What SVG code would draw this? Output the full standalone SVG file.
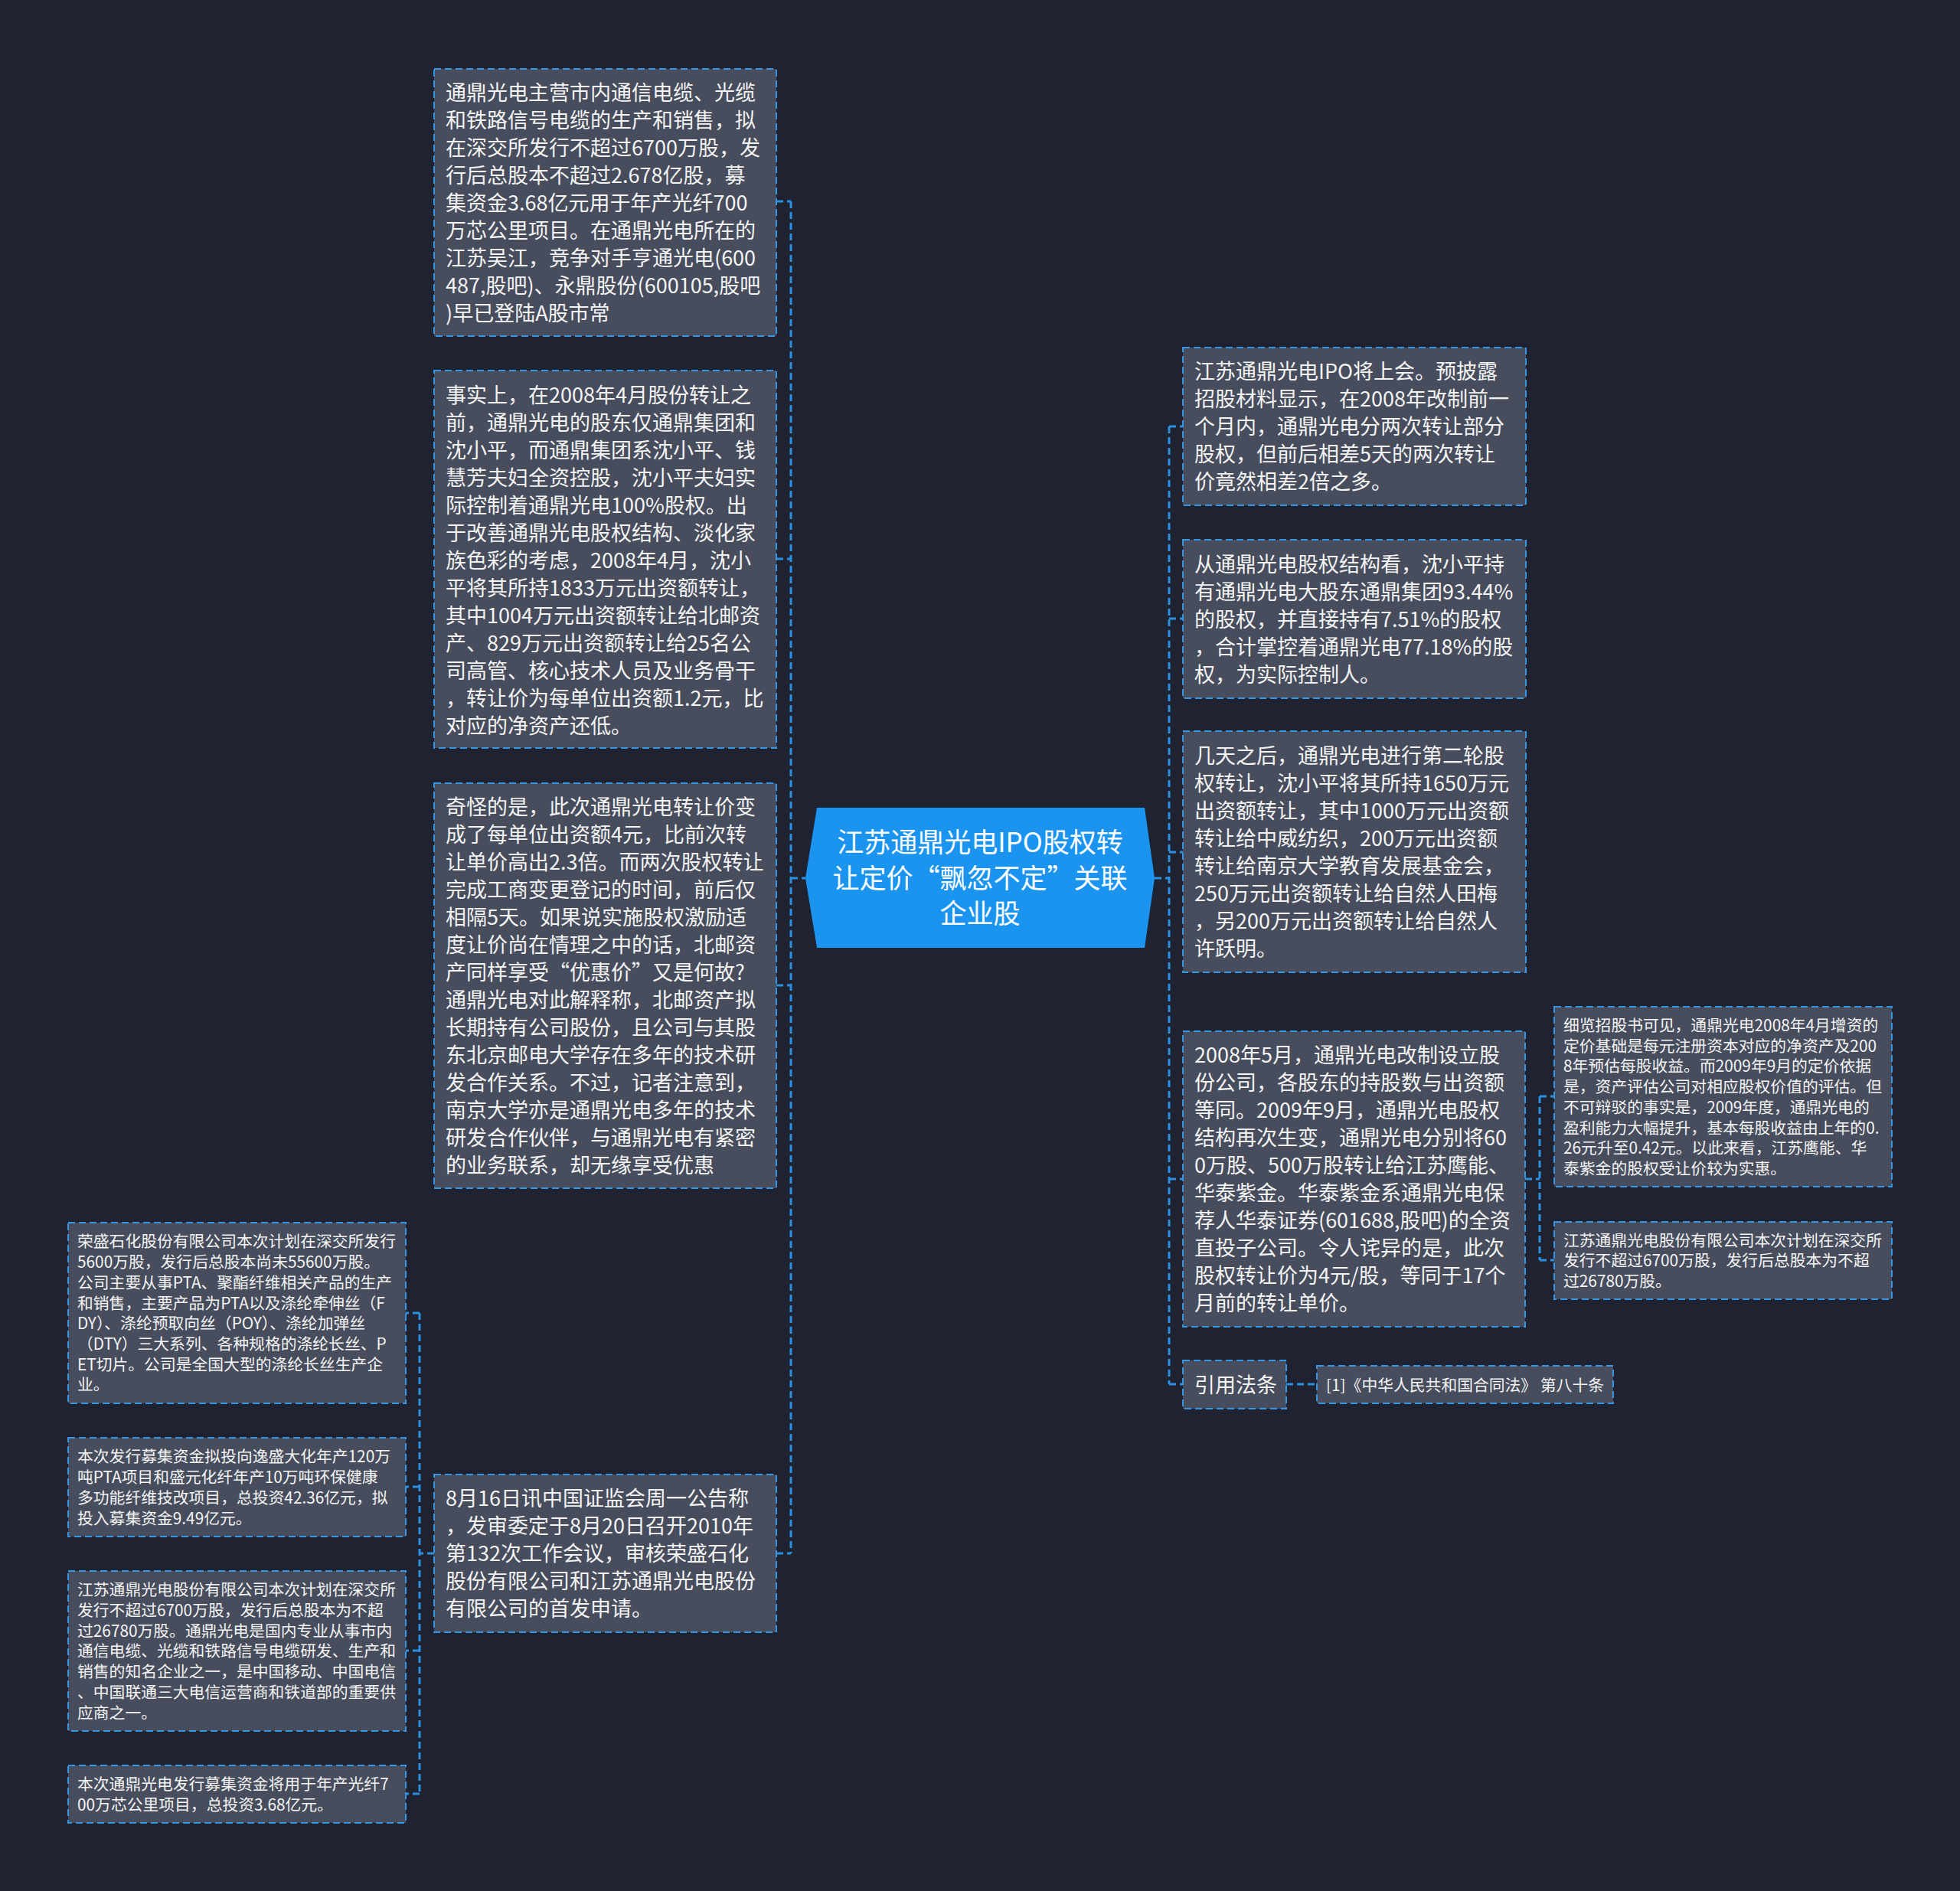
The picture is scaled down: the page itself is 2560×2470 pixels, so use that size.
<svg xmlns="http://www.w3.org/2000/svg" width="2560" height="2470" viewBox="0 0 2560 2470">
<style>
.bg{fill:#1f2231}
.box{fill:#474d5d;stroke:#3596e4;stroke-width:2;stroke-dasharray:9 5}
.t{font-family:"Noto Sans CJK SC","Noto Sans",sans-serif;fill:#f4f4f4}
.lg{font-size:27px}
.sm{font-size:20.8px}
.ct{font-family:"Noto Sans CJK SC","Noto Sans",sans-serif;font-size:35px;fill:#ffffff;text-anchor:middle}
.cn{fill:none;stroke:#2d8fe0;stroke-width:3;stroke-dasharray:9 5}
</style>
<rect class="bg" x="0" y="0" width="2560" height="2470"/>
<g id="connectors">
<path class="cn" d="M1033 263V2029M1014 263H1033M1014 730H1033M1014 1287H1033M1014 2029H1033M1033 1147H1052"/>
<path class="cn" d="M1527 557V1808M1527 557H1545M1527 808H1545M1527 1113H1545M1527 1540H1545M1527 1808H1545M1508 1147H1527"/>
<path class="cn" d="M1992 1540H2011M2011 1432V1646M2011 1432H2030M2011 1646H2030"/>
<path class="cn" d="M1680 1808H1720"/>
<path class="cn" d="M567 2029H548M548 1715V2343M548 1715H530M548 1942H530M548 2156H530M548 2343H530"/>
</g>
<g id="center">
<polygon points="1067,1055 1495,1055 1508,1147 1495,1238 1067,1238 1052,1147" fill="#1a94ee"/>
<text class="ct" x="1280" y="1113">江苏通鼎光电IPO股权转<tspan x="1280" dy="46.5">让定价“飘忽不定”关联</tspan><tspan x="1280" dy="46.5">企业股</tspan></text>
</g>
<g id="n1">
<rect class="box" x="567" y="90" width="447" height="349"/>
<text class="t lg" x="582" y="131">通鼎光电主营市内通信电缆、光缆<tspan x="582" dy="36">和铁路信号电缆的生产和销售，拟</tspan><tspan x="582" dy="36">在深交所发行不超过6700万股，发</tspan><tspan x="582" dy="36">行后总股本不超过2.678亿股，募</tspan><tspan x="582" dy="36">集资金3.68亿元用于年产光纤700</tspan><tspan x="582" dy="36">万芯公里项目。在通鼎光电所在的</tspan><tspan x="582" dy="36">江苏吴江，竞争对手亨通光电(600</tspan><tspan x="582" dy="36">487,股吧)、永鼎股份(600105,股吧</tspan><tspan x="582" dy="36">)早已登陆A股市常</tspan></text>
</g>
<g id="n2">
<rect class="box" x="567" y="484" width="447" height="493"/>
<text class="t lg" x="582" y="526">事实上，在2008年4月股份转让之<tspan x="582" dy="36">前，通鼎光电的股东仅通鼎集团和</tspan><tspan x="582" dy="36">沈小平，而通鼎集团系沈小平、钱</tspan><tspan x="582" dy="36">慧芳夫妇全资控股，沈小平夫妇实</tspan><tspan x="582" dy="36">际控制着通鼎光电100%股权。出</tspan><tspan x="582" dy="36">于改善通鼎光电股权结构、淡化家</tspan><tspan x="582" dy="36">族色彩的考虑，2008年4月，沈小</tspan><tspan x="582" dy="36">平将其所持1833万元出资额转让，</tspan><tspan x="582" dy="36">其中1004万元出资额转让给北邮资</tspan><tspan x="582" dy="36">产、829万元出资额转让给25名公</tspan><tspan x="582" dy="36">司高管、核心技术人员及业务骨干</tspan><tspan x="582" dy="36">，转让价为每单位出资额1.2元，比</tspan><tspan x="582" dy="36">对应的净资产还低。</tspan></text>
</g>
<g id="n3">
<rect class="box" x="567" y="1023" width="447" height="529"/>
<text class="t lg" x="582" y="1064">奇怪的是，此次通鼎光电转让价变<tspan x="582" dy="36">成了每单位出资额4元，比前次转</tspan><tspan x="582" dy="36">让单价高出2.3倍。而两次股权转让</tspan><tspan x="582" dy="36">完成工商变更登记的时间，前后仅</tspan><tspan x="582" dy="36">相隔5天。如果说实施股权激励适</tspan><tspan x="582" dy="36">度让价尚在情理之中的话，北邮资</tspan><tspan x="582" dy="36">产同样享受“优惠价”又是何故?</tspan><tspan x="582" dy="36">通鼎光电对此解释称，北邮资产拟</tspan><tspan x="582" dy="36">长期持有公司股份，且公司与其股</tspan><tspan x="582" dy="36">东北京邮电大学存在多年的技术研</tspan><tspan x="582" dy="36">发合作关系。不过，记者注意到，</tspan><tspan x="582" dy="36">南京大学亦是通鼎光电多年的技术</tspan><tspan x="582" dy="36">研发合作伙伴，与通鼎光电有紧密</tspan><tspan x="582" dy="36">的业务联系，却无缘享受优惠</tspan></text>
</g>
<g id="n4">
<rect class="box" x="567" y="1926" width="447" height="206"/>
<text class="t lg" x="582" y="1967">8月16日讯中国证监会周一公告称<tspan x="582" dy="36">，发审委定于8月20日召开2010年</tspan><tspan x="582" dy="36">第132次工作会议，审核荣盛石化</tspan><tspan x="582" dy="36">股份有限公司和江苏通鼎光电股份</tspan><tspan x="582" dy="36">有限公司的首发申请。</tspan></text>
</g>
<g id="n4a">
<rect class="box" x="89" y="1597" width="441" height="236"/>
<text class="t sm" x="101" y="1629.4">荣盛石化股份有限公司本次计划在深交所发行<tspan x="101" dy="26.7">5600万股，发行后总股本尚未55600万股。</tspan><tspan x="101" dy="26.7">公司主要从事PTA、聚酯纤维相关产品的生产</tspan><tspan x="101" dy="26.7">和销售，主要产品为PTA以及涤纶牵伸丝（F</tspan><tspan x="101" dy="26.7">DY）、涤纶预取向丝（POY）、涤纶加弹丝</tspan><tspan x="101" dy="26.7">（DTY）三大系列、各种规格的涤纶长丝、P</tspan><tspan x="101" dy="26.7">ET切片。公司是全国大型的涤纶长丝生产企</tspan><tspan x="101" dy="26.7">业。</tspan></text>
</g>
<g id="n4b">
<rect class="box" x="89" y="1878" width="441" height="129"/>
<text class="t sm" x="101" y="1910.4">本次发行募集资金拟投向逸盛大化年产120万<tspan x="101" dy="26.7">吨PTA项目和盛元化纤年产10万吨环保健康</tspan><tspan x="101" dy="26.7">多功能纤维技改项目，总投资42.36亿元，拟</tspan><tspan x="101" dy="26.7">投入募集资金9.49亿元。</tspan></text>
</g>
<g id="n4c">
<rect class="box" x="89" y="2052" width="441" height="209"/>
<text class="t sm" x="101" y="2084.3">江苏通鼎光电股份有限公司本次计划在深交所<tspan x="101" dy="26.7">发行不超过6700万股，发行后总股本为不超</tspan><tspan x="101" dy="26.7">过26780万股。通鼎光电是国内专业从事市内</tspan><tspan x="101" dy="26.7">通信电缆、光缆和铁路信号电缆研发、生产和</tspan><tspan x="101" dy="26.7">销售的知名企业之一，是中国移动、中国电信</tspan><tspan x="101" dy="26.7">、中国联通三大电信运营商和铁道部的重要供</tspan><tspan x="101" dy="26.7">应商之一。</tspan></text>
</g>
<g id="n4d">
<rect class="box" x="89" y="2306" width="441" height="75"/>
<text class="t sm" x="101" y="2338">本次通鼎光电发行募集资金将用于年产光纤7<tspan x="101" dy="26.7">00万芯公里项目，总投资3.68亿元。</tspan></text>
</g>
<g id="r1">
<rect class="box" x="1545" y="454" width="448" height="206"/>
<text class="t lg" x="1560" y="495">江苏通鼎光电IPO将上会。预披露<tspan x="1560" dy="36">招股材料显示，在2008年改制前一</tspan><tspan x="1560" dy="36">个月内，通鼎光电分两次转让部分</tspan><tspan x="1560" dy="36">股权，但前后相差5天的两次转让</tspan><tspan x="1560" dy="36">价竟然相差2倍之多。</tspan></text>
</g>
<g id="r2">
<rect class="box" x="1545" y="705" width="448" height="207"/>
<text class="t lg" x="1560" y="747">从通鼎光电股权结构看，沈小平持<tspan x="1560" dy="36">有通鼎光电大股东通鼎集团93.44%</tspan><tspan x="1560" dy="36">的股权，并直接持有7.51%的股权</tspan><tspan x="1560" dy="36">，合计掌控着通鼎光电77.18%的股</tspan><tspan x="1560" dy="36">权，为实际控制人。</tspan></text>
</g>
<g id="r3">
<rect class="box" x="1545" y="955" width="448" height="315"/>
<text class="t lg" x="1560" y="997">几天之后，通鼎光电进行第二轮股<tspan x="1560" dy="36">权转让，沈小平将其所持1650万元</tspan><tspan x="1560" dy="36">出资额转让，其中1000万元出资额</tspan><tspan x="1560" dy="36">转让给中威纺织，200万元出资额</tspan><tspan x="1560" dy="36">转让给南京大学教育发展基金会，</tspan><tspan x="1560" dy="36">250万元出资额转让给自然人田梅</tspan><tspan x="1560" dy="36">，另200万元出资额转让给自然人</tspan><tspan x="1560" dy="36">许跃明。</tspan></text>
</g>
<g id="r4">
<rect class="box" x="1545" y="1347" width="447" height="386"/>
<text class="t lg" x="1560" y="1388">2008年5月，通鼎光电改制设立股<tspan x="1560" dy="36">份公司，各股东的持股数与出资额</tspan><tspan x="1560" dy="36">等同。2009年9月，通鼎光电股权</tspan><tspan x="1560" dy="36">结构再次生变，通鼎光电分别将60</tspan><tspan x="1560" dy="36">0万股、500万股转让给江苏鹰能、</tspan><tspan x="1560" dy="36">华泰紫金。华泰紫金系通鼎光电保</tspan><tspan x="1560" dy="36">荐人华泰证券(601688,股吧)的全资</tspan><tspan x="1560" dy="36">直投子公司。令人诧异的是，此次</tspan><tspan x="1560" dy="36">股权转让价为4元/股，等同于17个</tspan><tspan x="1560" dy="36">月前的转让单价。</tspan></text>
</g>
<g id="r4a">
<rect class="box" x="2030" y="1315" width="441" height="235"/>
<text class="t sm" x="2042" y="1347">细览招股书可见，通鼎光电2008年4月增资的<tspan x="2042" dy="26.7">定价基础是每元注册资本对应的净资产及200</tspan><tspan x="2042" dy="26.7">8年预估每股收益。而2009年9月的定价依据</tspan><tspan x="2042" dy="26.7">是，资产评估公司对相应股权价值的评估。但</tspan><tspan x="2042" dy="26.7">不可辩驳的事实是，2009年度，通鼎光电的</tspan><tspan x="2042" dy="26.7">盈利能力大幅提升，基本每股收益由上年的0.</tspan><tspan x="2042" dy="26.7">26元升至0.42元。以此来看，江苏鹰能、华</tspan><tspan x="2042" dy="26.7">泰紫金的股权受让价较为实惠。</tspan></text>
</g>
<g id="r4b">
<rect class="box" x="2030" y="1596" width="441" height="101"/>
<text class="t sm" x="2042" y="1627.7">江苏通鼎光电股份有限公司本次计划在深交所<tspan x="2042" dy="26.7">发行不超过6700万股，发行后总股本为不超</tspan><tspan x="2042" dy="26.7">过26780万股。</tspan></text>
</g>
<g id="r5">
<rect class="box" x="1545" y="1777" width="135" height="63"/>
<text class="t lg" x="1560" y="1819">引用法条</text>
</g>
<g id="r5a">
<rect class="box" x="1720" y="1784" width="387" height="49"/>
<text class="t sm" x="1732" y="1816.5">[1]《中华人民共和国合同法》 第八十条</text>
</g>
</svg>
